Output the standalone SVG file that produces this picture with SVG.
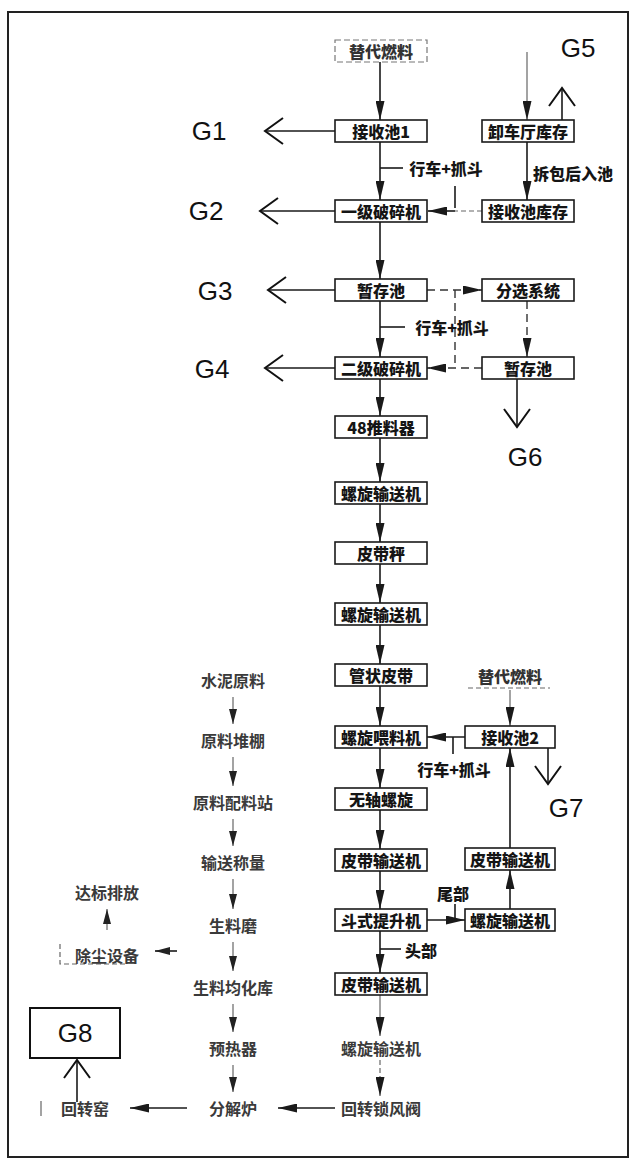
<svg xmlns="http://www.w3.org/2000/svg" width="636" height="1166" viewBox="0 0 636 1166">
<style>
.box{fill:#fff;stroke:#1a1a1a;stroke-width:1.6}
.dbox{fill:none;stroke:#777;stroke-width:1.2;stroke-dasharray:6 3}
.t{font-family:"Noto Sans CJK SC","Noto Sans CJK JP",sans-serif;font-size:16px;font-weight:900;fill:#151515;text-anchor:middle;dominant-baseline:central}
.tl{font-family:"Noto Sans CJK SC","Noto Sans CJK JP",sans-serif;font-size:16px;font-weight:700;fill:#3a3a3a;text-anchor:middle;dominant-baseline:central}
.g{font-family:"Liberation Sans",Arial,sans-serif;font-size:26px;fill:#111;text-anchor:middle;dominant-baseline:central}
.c{stroke:#1a1a1a;stroke-width:1.6;fill:none}
.cd{stroke:#333;stroke-width:1.4;fill:none;stroke-dasharray:8 5}
.cg{stroke:#666;stroke-width:1.2;fill:none}
.cgd{stroke:#666;stroke-width:1.2;fill:none;stroke-dasharray:5 3}
.fa{marker-end:url(#ah)}
.fs{marker-end:url(#ahs)}
.ga{marker-end:url(#chev)}
</style>
<defs>
<marker id="ah" markerUnits="userSpaceOnUse" markerWidth="20" markerHeight="9" refX="19" refY="4.5" orient="auto">
<path d="M0,0 L19,4.5 L0,9 z" fill="#1a1a1a"/>
</marker>
<marker id="ahs" markerUnits="userSpaceOnUse" markerWidth="16" markerHeight="8" refX="15" refY="4" orient="auto">
<path d="M0,0 L15,4 L0,8 z" fill="#222"/>
</marker>
<marker id="chev" markerUnits="userSpaceOnUse" markerWidth="24" markerHeight="30" refX="20" refY="15" orient="auto">
<path d="M2,2 L20,15 L2,28" fill="none" stroke="#111" stroke-width="2"/>
</marker>
</defs>
<rect x="0" y="0" width="636" height="1166" fill="#fff"/>
<rect x="8" y="12" width="620" height="1145" fill="none" stroke="#222" stroke-width="2"/>

<g id="connectors">
<line class="c fa" x1="380" y1="62" x2="380" y2="120"/>
<line class="cg fa" x1="527" y1="52" x2="527" y2="120"/>
<line class="c fa" x1="527" y1="142" x2="527" y2="200"/>
<line class="c ga" x1="562" y1="120" x2="562" y2="88"/>
<line class="c ga" x1="335" y1="131" x2="265" y2="131"/>
<line class="c ga" x1="335" y1="211" x2="260" y2="211"/>
<line class="c" x1="380" y1="168" x2="403" y2="168"/>
<line class="c fa" x1="380" y1="142" x2="380" y2="200"/>
<line class="cgd" x1="482" y1="211" x2="455" y2="211"/>
<line class="c fa" x1="455" y1="211" x2="428" y2="211"/>
<line class="c" x1="455" y1="186" x2="455" y2="208"/>
<line class="c fa" x1="380" y1="222" x2="380" y2="279"/>
<line class="c ga" x1="335" y1="290" x2="268" y2="290"/>
<line class="c ga" x1="335" y1="368" x2="265" y2="368"/>
<line class="cd fa" x1="427" y1="290" x2="482" y2="290"/>
<line class="cd" x1="455" y1="290" x2="455" y2="368"/>
<line class="cd fa" x1="482" y1="368" x2="427" y2="368"/>
<line class="cd fa" x1="527" y1="301" x2="527" y2="357"/>
<line class="c" x1="380" y1="327" x2="405" y2="327"/>
<line class="c fa" x1="380" y1="301" x2="380" y2="357"/>
<line class="c ga" x1="517" y1="379" x2="517" y2="427"/>
<line class="c fa" x1="380" y1="379" x2="380" y2="416"/>
<line class="c fa" x1="380" y1="438" x2="380" y2="482"/>
<line class="c fa" x1="380" y1="504" x2="380" y2="542"/>
<line class="c fa" x1="380" y1="564" x2="380" y2="603"/>
<line class="c fa" x1="380" y1="625" x2="380" y2="664"/>
<line class="c fa" x1="380" y1="686" x2="380" y2="726"/>
<line class="c fa" x1="380" y1="748" x2="380" y2="788"/>
<line class="c fa" x1="380" y1="810" x2="380" y2="849"/>
<line class="c fa" x1="380" y1="871" x2="380" y2="909"/>
<line class="c fa" x1="380" y1="931" x2="380" y2="973"/>
<line class="cg fa" x1="380" y1="995" x2="380" y2="1036"/>
<line class="cgd fa" x1="380" y1="1060" x2="380" y2="1096"/>
<line class="cgd" x1="468" y1="688" x2="550" y2="688"/>
<line class="cg fa" x1="510" y1="690" x2="510" y2="726"/>
<line class="c fa" x1="465" y1="737" x2="427" y2="737"/>
<line class="c" x1="453" y1="737" x2="453" y2="754"/>
<line class="c ga" x1="548" y1="748" x2="548" y2="784"/>
<line class="c fa" x1="510" y1="848" x2="510" y2="748"/>
<line class="c fa" x1="510" y1="909" x2="510" y2="870"/>
<line class="c fa" x1="427" y1="920" x2="465" y2="920"/>
<line class="c" x1="455" y1="904" x2="455" y2="920"/>
<line class="c" x1="380" y1="949" x2="401" y2="949"/>
<line class="cg fs" x1="233" y1="697" x2="233" y2="724"/>
<line class="cg fs" x1="233" y1="757" x2="233" y2="786"/>
<line class="cg fs" x1="233" y1="819" x2="233" y2="846"/>
<line class="cg fs" x1="233" y1="879" x2="233" y2="909"/>
<line class="cg fs" x1="233" y1="942" x2="233" y2="971"/>
<line class="cg fs" x1="233" y1="1004" x2="233" y2="1032"/>
<line class="cg fs" x1="233" y1="1065" x2="233" y2="1092"/>
<line class="cg fs" x1="107" y1="930" x2="107" y2="909"/>
<line class="c fs" x1="177" y1="951" x2="155" y2="951"/>
<line class="c fa" x1="335" y1="1108" x2="278" y2="1108"/>
<line class="c fa" x1="187" y1="1108" x2="130" y2="1108"/>
<line class="c ga" x1="77" y1="1102" x2="77" y2="1060"/>
<path class="cgd" d="M60,944 L60,964 L126,964"/>
<line class="cg" x1="41" y1="1101" x2="41" y2="1116"/>
</g>

<g id="n-tdrl1"><rect class="dbox" x="335" y="40" width="92" height="22"/><text class="t" x="381" y="51" style="fill:#333">替代燃料</text></g>
<g id="n-jsc1"><rect class="box" x="335" y="120" width="92" height="22"/><text class="t" x="381" y="131">接收池1</text></g>
<g id="n-yjpsj"><rect class="box" x="335" y="200" width="92" height="22"/><text class="t" x="381" y="211">一级破碎机</text></g>
<g id="n-zcc1"><rect class="box" x="335" y="279" width="92" height="22"/><text class="t" x="381" y="290">暂存池</text></g>
<g id="n-ejpsj"><rect class="box" x="335" y="357" width="92" height="22"/><text class="t" x="381" y="368">二级破碎机</text></g>
<g id="n-tlq"><rect class="box" x="335" y="416" width="92" height="22"/><text class="t" x="381" y="427">48推料器</text></g>
<g id="n-lxssj1"><rect class="box" x="335" y="482" width="92" height="22"/><text class="t" x="381" y="493">螺旋输送机</text></g>
<g id="n-pdc"><rect class="box" x="335" y="542" width="92" height="22"/><text class="t" x="381" y="553">皮带秤</text></g>
<g id="n-lxssj2"><rect class="box" x="335" y="603" width="92" height="22"/><text class="t" x="381" y="614">螺旋输送机</text></g>
<g id="n-gzpd"><rect class="box" x="335" y="664" width="92" height="22"/><text class="t" x="381" y="675">管状皮带</text></g>
<g id="n-lxwlj"><rect class="box" x="335" y="726" width="92" height="22"/><text class="t" x="381" y="737">螺旋喂料机</text></g>
<g id="n-wzlx"><rect class="box" x="335" y="788" width="92" height="22"/><text class="t" x="381" y="799">无轴螺旋</text></g>
<g id="n-pdssj1"><rect class="box" x="335" y="849" width="92" height="22"/><text class="t" x="381" y="860">皮带输送机</text></g>
<g id="n-dstsj"><rect class="box" x="335" y="909" width="92" height="22"/><text class="t" x="381" y="920">斗式提升机</text></g>
<g id="n-pdssj2"><rect class="box" x="335" y="973" width="92" height="22"/><text class="t" x="381" y="984">皮带输送机</text></g>
<g id="n-lxssj3"><text class="tl" x="381" y="1048">螺旋输送机</text></g>
<g id="n-hzsff"><text class="tl" x="381" y="1108">回转锁风阀</text></g>

<g id="n-xctkc"><rect class="box" x="482" y="120" width="92" height="22"/><text class="t" x="528" y="131">卸车厅库存</text></g>
<g id="n-jsckc"><rect class="box" x="482" y="200" width="92" height="22"/><text class="t" x="528" y="211">接收池库存</text></g>
<g id="n-fxxt"><rect class="box" x="482" y="279" width="92" height="22"/><text class="t" x="528" y="290">分选系统</text></g>
<g id="n-zcc2"><rect class="box" x="482" y="357" width="92" height="22"/><text class="t" x="528" y="368">暂存池</text></g>

<g id="n-tdrl2"><text class="t" x="510" y="676" style="fill:#333">替代燃料</text></g>
<g id="n-jsc2"><rect class="box" x="465" y="726" width="90" height="22"/><text class="t" x="510" y="737">接收池2</text></g>
<g id="n-pdssj3"><rect class="box" x="465" y="848" width="90" height="22"/><text class="t" x="510" y="859">皮带输送机</text></g>
<g id="n-lxssj4"><rect class="box" x="465" y="909" width="90" height="22"/><text class="t" x="510" y="920">螺旋输送机</text></g>

<g id="labels">
<text class="t" x="446" y="168">行车+抓斗</text>
<text class="t" x="452" y="327">行车+抓斗</text>
<text class="t" x="454" y="769">行车+抓斗</text>
<text class="t" x="533" y="173" style="text-anchor:start">拆包后入池</text>
<text class="t" x="453" y="893">尾部</text>
<text class="t" x="421" y="950">头部</text>
</g>

<g id="n-slyl"><text class="tl" x="233" y="680">水泥原料</text></g>
<g id="n-ylpd"><text class="tl" x="233" y="740">原料堆棚</text></g>
<g id="n-ylplz"><text class="tl" x="233" y="802">原料配料站</text></g>
<g id="n-sscl"><text class="tl" x="233" y="862">输送称量</text></g>
<g id="n-slm"><text class="tl" x="233" y="925">生料磨</text></g>
<g id="n-slhhk"><text class="tl" x="233" y="987">生料均化库</text></g>
<g id="n-yrq"><text class="tl" x="233" y="1048">预热器</text></g>
<g id="n-fjl"><text class="tl" x="233" y="1108">分解炉</text></g>
<g id="n-hzy"><text class="tl" x="85" y="1108">回转窑</text></g>
<g id="n-dbpf"><text class="tl" x="107" y="892">达标排放</text></g>
<g id="n-ccsb"><text class="tl" x="107" y="955">除尘设备</text></g>

<g id="n-g1"><text class="g" x="209" y="131">G1</text></g>
<g id="n-g2"><text class="g" x="206" y="211">G2</text></g>
<g id="n-g3"><text class="g" x="215" y="291">G3</text></g>
<g id="n-g4"><text class="g" x="212" y="369">G4</text></g>
<g id="n-g5"><text class="g" x="578" y="48">G5</text></g>
<g id="n-g6"><text class="g" x="525" y="457">G6</text></g>
<g id="n-g7"><text class="g" x="566" y="808">G7</text></g>
<g id="n-g8"><rect x="30" y="1008" width="90" height="50" fill="#fff" stroke="#111" stroke-width="2"/><text class="g" x="75" y="1033">G8</text></g>
</svg>
